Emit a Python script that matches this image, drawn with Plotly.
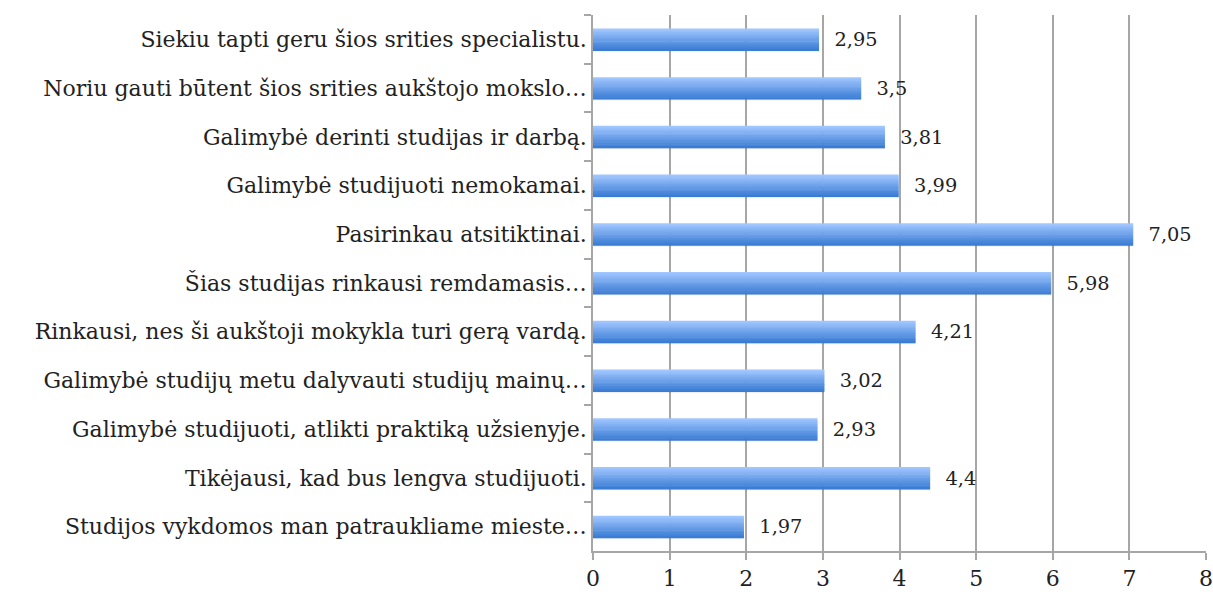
import plotly.graph_objects as go

categories = [
    "Siekiu tapti geru šios srities specialistu.",
    "Noriu gauti būtent šios srities aukštojo mokslo…",
    "Galimybė derinti studijas ir darbą.",
    "Galimybė studijuoti nemokamai.",
    "Pasirinkau atsitiktinai.",
    "Šias studijas rinkausi remdamasis…",
    "Rinkausi, nes ši aukštoji mokykla turi gerą vardą.",
    "Galimybė studijų metu dalyvauti studijų mainų…",
    "Galimybė studijuoti, atlikti praktiką užsienyje.",
    "Tikėjausi, kad bus lengva studijuoti.",
    "Studijos vykdomos man patraukliame mieste…",
]
values = [2.95, 3.5, 3.81, 3.99, 7.05, 5.98, 4.21, 3.02, 2.93, 4.4, 1.97]
x_ticks = [0, 1, 2, 3, 4, 5, 6, 7, 8]

FONT = "DejaVu Serif"
TXT = "#222222"
BAR_W = 0.45
fig = go.Figure()

# soft shadow under bars
for j, a in enumerate([0.10, 0.06, 0.03]):
    fig.add_trace(go.Bar(
        y=categories, x=values, orientation="h",
        offset=BAR_W / 2 + j * 0.012, width=0.013,
        marker=dict(color="rgba(0,0,0,%.2f)" % a, line=dict(width=0)),
        hoverinfo="skip", showlegend=False,
    ))

# gradient bands (light top -> darker bottom)
top = (160, 198, 255)
bot = (60, 125, 212)
N = 12
band = BAR_W / N
for i in range(N):
    t = i / (N - 1)
    c = tuple(round(top[k] + (bot[k] - top[k]) * t) for k in range(3))
    fig.add_trace(go.Bar(
        y=categories, x=values, orientation="h",
        offset=-BAR_W / 2 + i * band, width=band * 1.3,
        marker=dict(color="rgb(%d,%d,%d)" % c, line=dict(width=0)),
        hoverinfo="skip", showlegend=False,
    ))

# value labels
fig.add_trace(go.Bar(
    y=categories, x=values, orientation="h",
    width=BAR_W,
    marker=dict(color="rgba(0,0,0,0)", line=dict(width=0)),
    text=["  " + f"{v:g}".replace(".", ",") for v in values],
    textposition="outside", cliponaxis=False,
    textfont=dict(family=FONT, size=23, color=TXT),
    hoverinfo="skip", showlegend=False,
))

fig.update_layout(
    width=1213, height=594,
    barmode="overlay",
    paper_bgcolor="white", plot_bgcolor="white",
    margin=dict(l=593, r=7, t=15, b=43),
    font=dict(family=FONT, size=22, color=TXT),
    showlegend=False,
)
fig.update_xaxes(
    range=[0, 8], tickvals=x_ticks, automargin=False,
    showgrid=True, gridcolor="#a6a6a6", gridwidth=1.5,
    showline=True, linecolor="#a6a6a6", linewidth=1.5,
    ticks="outside", ticklen=7, tickcolor="#a6a6a6", tickwidth=1.5,
    tickfont=dict(family=FONT, size=22, color=TXT),
    zeroline=False,
)
fig.update_yaxes(
    autorange="reversed", type="category", automargin=False,
    showline=True, linecolor="#a6a6a6", linewidth=1.5,
    ticks="outside", ticklen=7, tickcolor="#a6a6a6", tickwidth=1.5,
    tickson="boundaries",
    tickfont=dict(family=FONT, size=22, color=TXT),
    showgrid=False,
)

fig.write_html(
    "out.html",
    config={"displayModeBar": False},
    post_script="document.body.style.margin='0';document.body.style.overflow='hidden';",
)
